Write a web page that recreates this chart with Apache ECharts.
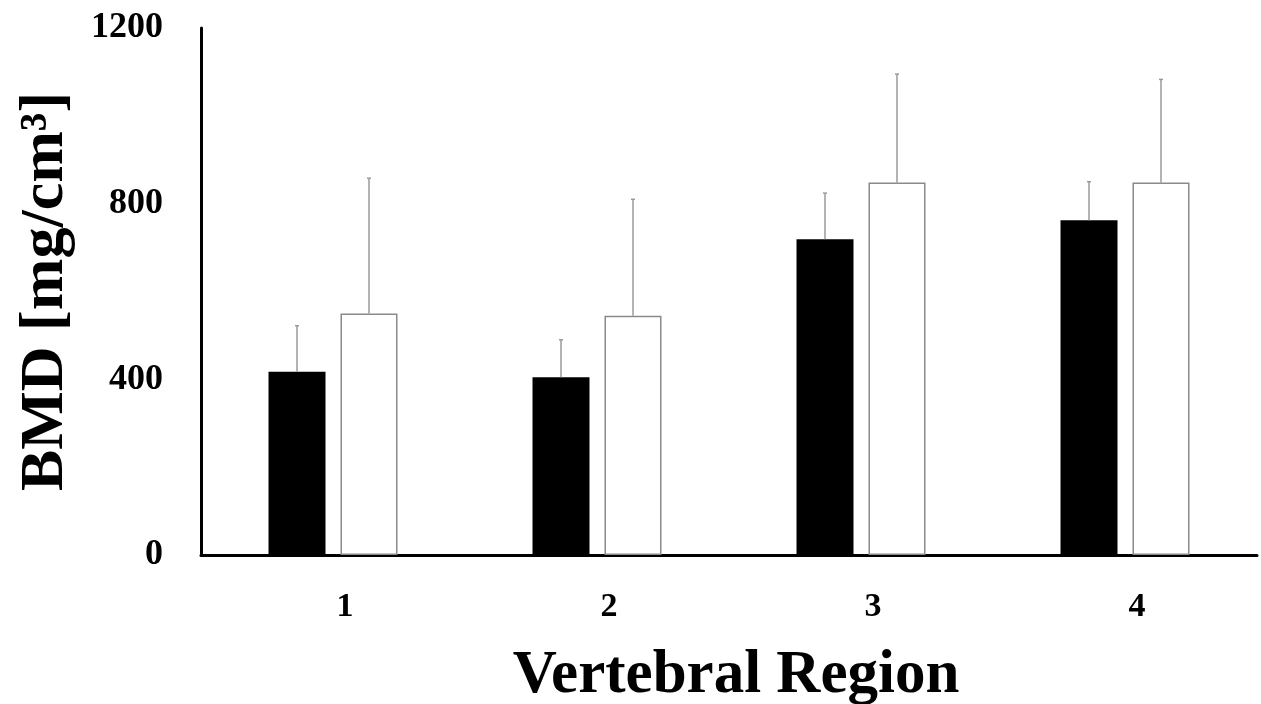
<!DOCTYPE html>
<html>
<head>
<meta charset="utf-8">
<script src="https://cdn.jsdelivr.net/npm/echarts@6/dist/echarts.min.js"></script>
<style>
html,body{margin:0;padding:0;background:#fff;}
#chart{width:1261px;height:704px;}
</style>
</head>
<body>
<div id="chart"></div>
<script>
// ---- data ----
const categories = ['1', '2', '3', '4'];
const blackMeans = [417, 405, 719, 762];
const blackUpper = [522, 490, 824, 850];
const whiteMeans = [550, 545, 848, 848];
const whiteUpper = [858, 810, 1095, 1083];
const yTicks = [0, 400, 800, 1200];

// ---- style ----
const FONT = '"Liberation Serif", "Times New Roman", serif';
const BAR_W = 57;
const GAP_PX = 15;
const OFFSET = (BAR_W + GAP_PX) / 2;

function errData(means, uppers) {
  return means.map((m, i) => [i, m, uppers[i]]);
}

function errRender(sign) {
  return function (params, api) {
    const i = api.value(0);
    const base = api.coord([i, api.value(1)]);
    const top = api.coord([i, api.value(2)]);
    const x = base[0] + sign * OFFSET;
    const style = { stroke: '#9a9a9a', lineWidth: 1.5 };
    return {
      type: 'group',
      children: [
        { type: 'line', shape: { x1: x, y1: base[1], x2: x, y2: top[1] }, style: style },
        { type: 'line', shape: { x1: x - 2, y1: top[1], x2: x + 2, y2: top[1] }, style: style }
      ]
    };
  };
}

const chart = echarts.init(document.getElementById('chart'), null, { renderer: 'canvas' });
chart.setOption({
  animation: false,
  backgroundColor: '#ffffff',
  grid: { left: 201, right: 4, top: 28, bottom: 149, containLabel: false, outerBoundsMode: 'none' },
  xAxis: {
    type: 'category',
    data: categories,
    name: 'Vertebral Region',
    nameLocation: 'middle',
    nameGap: 91,
    nameTextStyle: { fontFamily: FONT, fontWeight: 'bold', fontSize: 61, color: '#000', padding: [0, 0, 0, 14] },
    axisLine: { lineStyle: { color: '#000', width: 3 } },
    axisTick: { show: false },
    axisLabel: { fontFamily: FONT, fontWeight: 'bold', fontSize: 34, color: '#000', margin: 35, padding: [0, 0, 0, 24] }
  },
  yAxis: {
    type: 'value',
    min: yTicks[0],
    max: yTicks[yTicks.length - 1],
    interval: yTicks[1] - yTicks[0],
    name: 'BMD [mg/cm³]',
    nameLocation: 'middle',
    nameRotate: 90,
    nameGap: 124,
    nameTextStyle: { fontFamily: FONT, fontWeight: 'bold', fontSize: 62, color: '#000' },
    axisLine: { show: true, lineStyle: { color: '#000', width: 3 } },
    axisTick: { show: false },
    splitLine: { show: false },
    axisLabel: {
      fontFamily: FONT, fontWeight: 'bold', fontSize: 36, color: '#000', margin: 38,
      padding: [16, 0, 0, 0],
      formatter: function (v) { return String(v); }
    }
  },
  series: [
    {
      type: 'bar',
      data: blackMeans,
      barWidth: BAR_W,
      barGap: (GAP_PX / BAR_W * 100).toFixed(1) + '%',
      itemStyle: { color: '#000000' },
      z: 2
    },
    {
      type: 'bar',
      data: whiteMeans,
      barWidth: BAR_W,
      itemStyle: { color: '#ffffff', borderColor: '#8a8a8a', borderWidth: 1.5 },
      z: 2
    },
    {
      type: 'custom',
      data: errData(blackMeans, blackUpper),
      renderItem: errRender(-1),
      encode: { x: 0, y: [1, 2] },
      z: 3
    },
    {
      type: 'custom',
      data: errData(whiteMeans, whiteUpper),
      renderItem: errRender(1),
      encode: { x: 0, y: [1, 2] },
      z: 3
    }
  ]
});
</script>
</body>
</html>
